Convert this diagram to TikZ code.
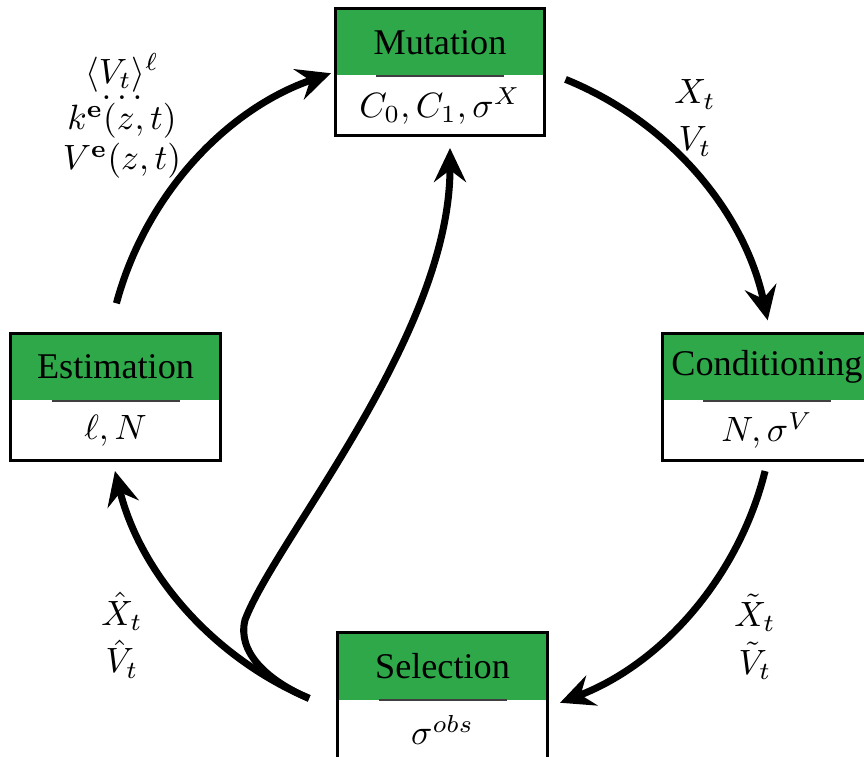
\documentclass[tikz,border=0pt]{standalone}
\usepackage[no-math]{fontspec}
\setmainfont{Liberation Serif}
\usetikzlibrary{arrows.meta,positioning,calc}
\definecolor{boxgreen}{HTML}{2FA84A}
\tikzset{head/.style={fill=boxgreen,minimum width=2.08cm,minimum height=0.66cm,inner sep=0pt},
  body/.style={fill=white,minimum width=2.08cm,minimum height=0.58cm,inner sep=0pt},
  frame/.style={draw=black,line width=0.8pt},
  splitline/.style={draw=black!75,line width=0.6pt},
  lbl/.style={align=center,inner sep=0pt},
  flow/.style={-{Stealth[length=3.4mm,width=3.2mm,inset=1.2mm]},line width=2pt}}

\begin{document}
\begin{tikzpicture}[x=1cm,y=1cm,every node/.style={font=\fontsize{10.3}{12.4}\selectfont}]
\useasboundingbox (0,0) rectangle (8.64,7.56);
\node[head] (mut) at (4.40,7.135) {Mutation};
\node[body,below=0pt of mut] (mutb) {$C_0,C_1,\sigma^X$};
\node[head] (est) at (1.155,3.89) {Estimation};
\node[body,below=0pt of est] (estb) {$\ell,N$};
\node[head] (cond) at (7.67,3.89) {Conditioning};
\node[body,below=0pt of cond] (condb) {$N,\sigma^V$};
\node[head] (sel) at (4.425,0.895) {Selection};
\node[body,below=0pt of sel] (selb) {$\sigma^{obs}$};
\foreach \b in {mut,est,cond,sel}{
  \draw[frame] (\b.north west) rectangle (\b b.south east);
  \draw[splitline] ([xshift=-6.4mm]\b.south) -- ([xshift=6.4mm]\b.south);
}
\node[lbl] (lblxv) at (6.95,6.38) {$X_t$\\[1pt]$V_t$};
\node[lbl] (lbltilde) at (7.55,1.19) {$\tilde{X}_t$\\[1.2pt]$\tilde{V}_t$};
\node[lbl] (lblhat) at (1.22,1.21) {$\hat{X}_t$\\[1.2pt]$\hat{V}_t$};
\node[lbl] (lblest) at (1.22,6.40) {$\langle V_t\rangle^{\ell}$\\[-7.6pt]\smash{$\dots$}\\[-3.9pt]$k^{\mathbf{e}}(z,t)$\\[-1pt]$V^{\mathbf{e}}(z,t)$};
\coordinate (ctr) at (4.40,3.66);
\coordinate (s1) at ($(ctr)+(165:3.35)$);
\coordinate (s2) at ($(ctr)+(68:3.35)$);
\coordinate (s3) at ($(ctr)+(-14:3.35)$);
\coordinate (s4) at ($(ctr)+(-113:3.35)$);
\coordinate (bend) at (2.45,1.36);
\coordinate (mutin) at (4.50,6.08);
\draw[flow] (s1) arc[start angle=165,end angle=109,radius=3.35];
\draw[flow] (s2) arc[start angle=68,end angle=12,radius=3.35];
\draw[flow] (s3) arc[start angle=-14,end angle=-69,radius=3.35];
\draw[flow] (s4) arc[start angle=-113,end angle=-166,radius=3.35];
\draw[flow] (s4) .. controls (2.67,0.755) and (2.37,1.04) .. (bend)
  .. controls (2.75,2.16) and (4.50,4.20) .. (mutin);
\end{tikzpicture}
\end{document}
